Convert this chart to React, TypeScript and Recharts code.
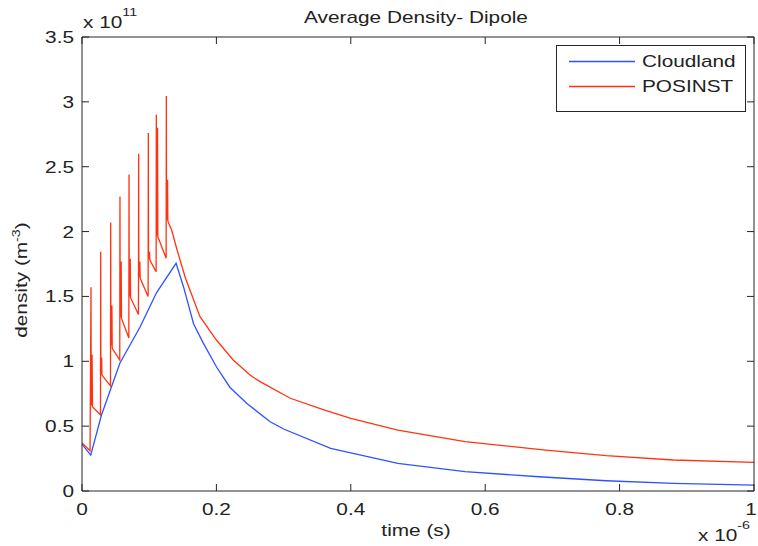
import { LineChart, Line, XAxis, YAxis } from "recharts";

// time in units of 1e-6 s, density in units of 1e11 m^-3
const cloudlandTime = [
  0, 0.013, 0.029, 0.0565, 0.086, 0.111, 0.14, 0.151, 0.166, 0.1805, 0.2, 0.22,
  0.245, 0.28, 0.3, 0.37, 0.47, 0.57, 0.68, 0.78, 0.88, 1.0,
];
const cloudlandDensity = [
  0.36, 0.277, 0.586, 0.987, 1.26, 1.53, 1.755, 1.575, 1.29, 1.14, 0.958, 0.8,
  0.676, 0.534, 0.478, 0.329, 0.213, 0.149, 0.11, 0.079, 0.059, 0.046,
];

const posinstTime = [
  0, 0.012,
  0.0134, 0.0137, 0.015, 0.0156, 0.0275,
  0.0278, 0.0281, 0.0292, 0.0297, 0.0424,
  0.0427, 0.043, 0.0445, 0.045, 0.0562,
  0.0565, 0.0568, 0.0583, 0.0588, 0.0697,
  0.07, 0.0703, 0.0718, 0.0723, 0.084,
  0.0843, 0.0846, 0.0861, 0.0866, 0.0984,
  0.0987, 0.099, 0.1005, 0.101, 0.1103,
  0.1106, 0.1109, 0.1124, 0.1129, 0.1252,
  0.1255, 0.1258, 0.1273, 0.1278,
  0.1335, 0.1414, 0.154, 0.1756, 0.2, 0.225, 0.25, 0.265, 0.31, 0.36, 0.4,
  0.47, 0.57, 0.69, 0.78, 0.88, 1.0,
];
const posinstDensity = [
  0.37, 0.31,
  1.57, 0.66, 1.05, 0.65, 0.586,
  1.845, 0.9, 1.03, 0.894, 0.81,
  2.07, 1.12, 1.43, 1.1, 1.01,
  2.27, 1.34, 1.77, 1.33, 1.18,
  2.44, 1.5, 1.79, 1.49, 1.36,
  2.6, 1.65, 1.77, 1.64, 1.5,
  2.76, 1.79, 1.845, 1.78, 1.69,
  2.9, 1.97, 2.8, 1.96, 1.795,
  3.045, 2.09, 2.4, 2.08,
  2.01, 1.86, 1.64, 1.344, 1.164, 1.01, 0.894, 0.843, 0.715, 0.625, 0.56,
  0.47, 0.38, 0.315, 0.272, 0.239, 0.221,
];

const xTicks = [0, 0.2, 0.4, 0.6, 0.8, 1];
const yTicks = [0, 0.5, 1, 1.5, 2, 2.5, 3, 3.5];

const cloudlandData = cloudlandTime.map((t, i) => ({ t, density: cloudlandDensity[i] }));
const posinstData = posinstTime.map((t, i) => ({ t, density: posinstDensity[i] }));

const BLUE = "#2f52ff";
const RED = "#ff3311";
const AXIS = "#262626";
const FONT = "'Liberation Sans', Arial, sans-serif";
const TICK = 7;

function BottomTick({ x, y, payload }: any) {
  // keep the last label inside the picture edge
  const tx = payload.value === xTicks[xTicks.length - 1] ? x - 3 : x;
  return (
    <g>
      <line x1={x} x2={x} y1={y} y2={y - TICK} stroke={AXIS} />
      <text
        transform={`translate(${tx},${y + 24}) scale(1.3,1)`}
        textAnchor="middle"
        fontFamily={FONT}
        fontSize={16}
        fill="#222"
      >
        {payload.value}
      </text>
    </g>
  );
}

function LeftTick({ x, y, payload }: any) {
  return (
    <g>
      <line x1={x} x2={x + TICK} y1={y} y2={y} stroke={AXIS} />
      <text
        transform={`translate(${x - 8},${y + 6}) scale(1.3,1)`}
        textAnchor="end"
        fontFamily={FONT}
        fontSize={16}
        fill="#222"
      >
        {payload.value}
      </text>
    </g>
  );
}

function TopTick({ x, y }: any) {
  return <line x1={x} x2={x} y1={y} y2={y + TICK} stroke={AXIS} />;
}

function RightTick({ x, y }: any) {
  return <line x1={x} x2={x - TICK} y1={y} y2={y} stroke={AXIS} />;
}

function Overlay() {
  const txt = { fontFamily: FONT, fill: "#222" };
  return (
    <svg
      width={758}
      height={546}
      style={{ position: "absolute", left: 0, top: 0, pointerEvents: "none" }}
    >
      <text transform="translate(416,23) scale(1.3,1)" textAnchor="middle" fontSize={16} {...txt}>
        Average Density- Dipole
      </text>
      <text transform="translate(83,28) scale(1.3,1)" fontSize={16} {...txt}>
        x 10
        <tspan fontSize={11} dy={-12}>11</tspan>
      </text>
      <text transform="translate(416,536) scale(1.3,1)" textAnchor="middle" fontSize={16} {...txt}>
        time (s)
      </text>
      <text transform="translate(698,541) scale(1.3,1)" fontSize={16} {...txt}>
        x 10
        <tspan fontSize={11} dy={-12}>-6</tspan>
      </text>
      <text
        transform="translate(27,280) rotate(-90) scale(1.3,1)"
        textAnchor="middle"
        fontSize={16}
        {...txt}
      >
        density (m
        <tspan fontSize={11} dy={-7}>-3</tspan>
        <tspan dy={7}>)</tspan>
      </text>
      <rect x={556.5} y={45.5} width={189} height={66} fill="#fff" stroke={AXIS} />
      <line x1={569} x2={635} y1={61.5} y2={61.5} stroke={BLUE} strokeWidth={1.3} />
      <line x1={569} x2={635} y1={86.5} y2={86.5} stroke={RED} strokeWidth={1.3} />
      <text transform="translate(642,67) scale(1.3,1)" fontSize={16} {...txt}>
        Cloudland
      </text>
      <text transform="translate(642,92) scale(1.3,1)" fontSize={16} {...txt}>
        POSINST
      </text>
    </svg>
  );
}

export default function App() {
  return (
    <div style={{ position: "absolute", left: 0, top: 0, width: 758, height: 546, background: "#fff" }}>
      <LineChart width={758} height={546} margin={{ top: 0, right: 0, bottom: 0, left: 0 }}>
        <XAxis
          xAxisId="bottom"
          dataKey="t"
          type="number"
          domain={[0, 1]}
          ticks={xTicks}
          interval={0}
          height={55}
          tickSize={0}
          tickMargin={0}
          tickLine={false}
          stroke={AXIS}
          tick={<BottomTick />}
          allowDataOverflow
        />
        <XAxis
          xAxisId="top"
          orientation="top"
          dataKey="t"
          type="number"
          domain={[0, 1]}
          ticks={xTicks}
          interval={0}
          height={37}
          tickSize={0}
          tickMargin={0}
          tickLine={false}
          stroke={AXIS}
          tick={<TopTick />}
          allowDataOverflow
        />
        <YAxis
          yAxisId="left"
          type="number"
          domain={[0, 3.5]}
          ticks={yTicks}
          interval={0}
          width={82}
          tickSize={0}
          tickMargin={0}
          tickLine={false}
          stroke={AXIS}
          tick={<LeftTick />}
          allowDataOverflow
        />
        <YAxis
          yAxisId="right"
          orientation="right"
          type="number"
          domain={[0, 3.5]}
          ticks={yTicks}
          interval={0}
          width={4}
          tickSize={0}
          tickMargin={0}
          tickLine={false}
          stroke={AXIS}
          tick={<RightTick />}
          allowDataOverflow
        />
        <Line
          xAxisId="bottom"
          yAxisId="left"
          data={cloudlandData}
          dataKey="density"
          type="linear"
          stroke={BLUE}
          strokeWidth={1.3}
          dot={false}
          isAnimationActive={false}
        />
        <Line
          xAxisId="bottom"
          yAxisId="left"
          data={posinstData}
          dataKey="density"
          type="linear"
          stroke={RED}
          strokeWidth={1.3}
          dot={false}
          isAnimationActive={false}
        />
      </LineChart>
      <Overlay />
    </div>
  );
}
